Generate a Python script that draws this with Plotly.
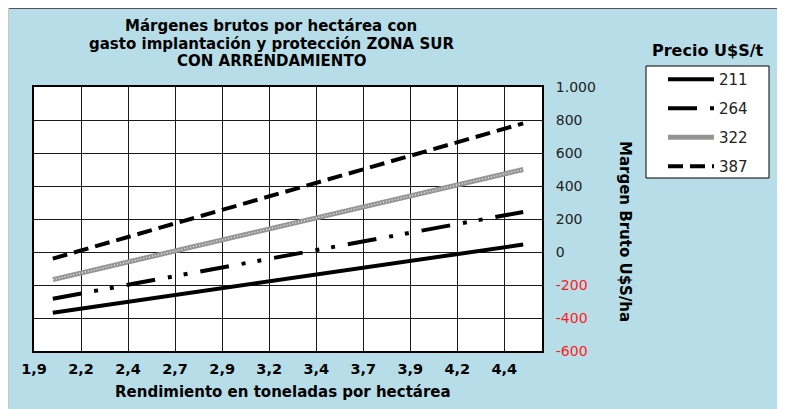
import plotly.graph_objects as go

# ---------------- data ----------------
rendimiento = [2.0, 2.25, 2.5, 2.75, 3.0, 3.25, 3.5, 3.75, 4.0, 4.25, 4.5]
precios = ["211", "264", "322", "387"]
mb_211 = [-368, -327, -286, -244, -203, -162, -120, -79, -38, 4, 45]
mb_264 = [-283, -230, -178, -125, -73, -20, 33, 85, 138, 190, 243]
mb_322 = [-167, -100, -34, 33, 100, 167, 233, 300, 367, 434, 500]
mb_387 = [-40, 42, 124, 206, 288, 370, 452, 534, 616, 698, 780]

x_tickvals = [1.9, 2.15, 2.4, 2.65, 2.9, 3.15, 3.4, 3.65, 3.9, 4.15, 4.4]
x_ticktext = ["1,9", "2,2", "2,4", "2,7", "2,9", "3,2", "3,4", "3,7", "3,9", "4,2", "4,4"]
y_tickvals = [1000, 800, 600, 400, 200, 0, -200, -400, -600]
y_ticktext = ["1.000", "800", "600", "400", "200", "0", "-200", "-400", "-600"]

titulo_lineas = ["Márgenes brutos por hectárea con",
                 "gasto implantación y protección ZONA SUR",
                 "CON ARRENDAMIENTO"]
titulo_x = "Rendimiento en toneladas por hectárea"
titulo_y = "Margen Bruto U$S/ha"
titulo_leyenda = "Precio U$S/t"

# ---------------- layout helpers (figure pixel coords) ----------------
W, H = 785, 409
L, R, T, B = 26, 534, 79, 343
FONT = "DejaVu Sans"
BLUE = "#B7DDE8"


def px(xp):
    return (xp - L) / (R - L)


def py(yp):
    return (B - yp) / (B - T)


y_ticktext_col = [
    f'<span style="color:#FF1A1A">{t}</span>' if v < 0 else t
    for t, v in zip(y_ticktext, y_tickvals)
]

fig = go.Figure()

styles = {
    "211": dict(color="black", width=4, dash="solid"),
    "264": dict(color="black", width=4, dash="29px,13px,4px,12px,4px,13px"),
    "322": dict(color="#959595", width=5, dash="solid"),
    "387": dict(color="black", width=4, dash="15px,7px"),
}
series = {"211": mb_211, "264": mb_264, "322": mb_322, "387": mb_387}

for p in precios:
    fig.add_trace(go.Scatter(
        x=rendimiento, y=series[p], mode="lines", name=p,
        legendgroup=p, line=styles[p], hoverinfo="skip",
    ))
    if p == "322":
        fig.add_trace(go.Scatter(
            x=rendimiento, y=series[p], mode="lines", name=p,
            legendgroup=p, showlegend=False, hoverinfo="skip",
            line=dict(color="#E8E8E8", width=1.5, dash="1px,2px"),
        ))

shapes = [
    dict(type="line", xref="paper", yref="paper", layer="below",
         x0=px(0), x1=px(W), y0=py(0.5), y1=py(0.5),
         line=dict(color="#555555", width=1)),
    dict(type="line", xref="paper", yref="paper", layer="below",
         x0=px(0.5), x1=px(0.5), y0=py(0), y1=py(H),
         line=dict(color="#C8C8C8", width=1)),
    dict(type="rect", xref="paper", yref="paper", layer="below",
         x0=px(638), x1=px(761), y0=py(170), y1=py(58),
         fillcolor="white", line=dict(color="black", width=1)),
]

annotations = []
for txt, yc in zip(titulo_lineas, [18, 36, 53]):
    annotations.append(dict(
        text=f"<b>{txt}</b>", xref="paper", yref="paper",
        x=px(263), y=py(yc), xanchor="center", yanchor="middle",
        showarrow=False, font=dict(family=FONT, size=15, color="black")))
annotations += [
    dict(text=f"<b>{titulo_x}</b>", xref="paper", yref="paper",
         x=px(275), y=py(384), xanchor="center", yanchor="middle",
         showarrow=False, font=dict(family=FONT, size=15, color="black")),
    dict(text=f"<b>{titulo_y}</b>", xref="paper", yref="paper",
         x=px(617), y=py(223), xanchor="center", yanchor="middle",
         textangle=90, showarrow=False,
         font=dict(family=FONT, size=15, color="black")),
    dict(text=f"<b>{titulo_leyenda}</b>", xref="paper", yref="paper",
         x=px(699), y=py(42), xanchor="center", yanchor="middle",
         showarrow=False, font=dict(family=FONT, size=16, color="black")),
]

fig.update_layout(
    width=W, height=H, autosize=False,
    margin=dict(l=L, r=W - R, t=T, b=H - B, pad=0),
    paper_bgcolor=BLUE, plot_bgcolor="white",
    font=dict(family=FONT, size=14, color="#222222"),
    showlegend=True,
    legend=dict(
        x=px(655), y=py(55), xanchor="left", yanchor="top",
        bgcolor="rgba(0,0,0,0)", borderwidth=0,
        traceorder="grouped", tracegroupgap=6.5, itemwidth=46,
        font=dict(family=FONT, size=15, color="#222222"),
    ),
    xaxis=dict(
        range=[1.9, 4.6], tickmode="array", tickvals=x_tickvals, ticktext=x_ticktext,
        showgrid=True, gridcolor="#1a1a1a", gridwidth=1, zeroline=False,
        showline=True, linecolor="black", linewidth=2, mirror=True, ticks="",
        tickfont=dict(family=FONT, size=14.5, color="black", weight="bold"),
        ticklabelstandoff=4,
    ),
    xaxis2=dict(
        overlaying="x", side="top", anchor="y", range=[1.9, 4.6],
        tickmode="array", tickvals=x_tickvals, ticks="outside", ticklen=5,
        tickwidth=1.5, tickcolor="black", showticklabels=False,
        showgrid=False, showline=False, zeroline=False,
    ),
    yaxis=dict(
        range=[-600, 1000], side="right", tickmode="array",
        tickvals=y_tickvals, ticktext=y_ticktext_col,
        showgrid=True, gridcolor="#1a1a1a", gridwidth=1, zeroline=False,
        showline=True, linecolor="black", linewidth=2, mirror=True, ticks="",
        tickfont=dict(family=FONT, size=14, color="#222222"),
        ticklabelstandoff=9,
    ),
    yaxis2=dict(
        overlaying="y", side="left", anchor="x", range=[-600, 1000],
        tickmode="array", tickvals=y_tickvals, ticks="outside", ticklen=5,
        tickwidth=1.5, tickcolor="black", showticklabels=False,
        showgrid=False, showline=False, zeroline=False,
    ),
    shapes=shapes,
    annotations=annotations,
)

fig.write_html("out.html")
